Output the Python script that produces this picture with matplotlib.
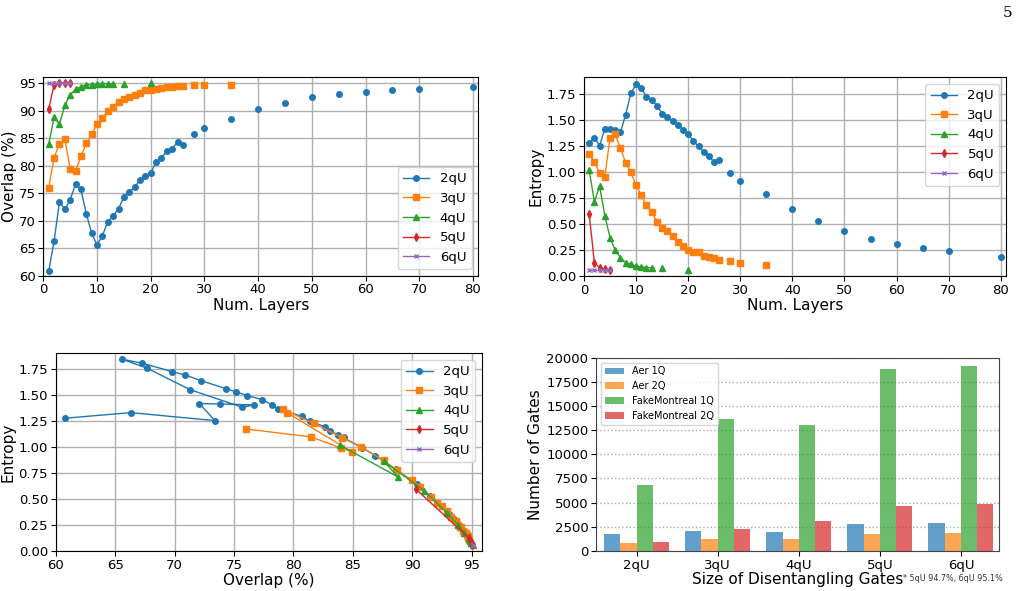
import numpy as np
import matplotlib
matplotlib.use("Agg")
import matplotlib.pyplot as plt

# ---------------- data ----------------
layers_2q = [1,2,3,4,5,6,7,8,9,10,11,12,13,14,15,16,17,18,19,20,21,22,23,24,25,26]
overlap_2q = [60.8,66.3,73.4,72.1,73.8,76.7,75.7,71.3,67.7,65.6,67.3,69.8,70.9,72.2,74.3,75.2,76.1,77.4,78.2,78.7,80.7,81.4,82.7,83.1,84.3,83.8]
entropy_2q = [1.276,1.330,1.253,1.417,1.413,1.404,1.381,1.551,1.756,1.843,1.804,1.724,1.692,1.638,1.561,1.529,1.494,1.455,1.404,1.365,1.295,1.247,1.192,1.151,1.093,1.112]
layers_2q_extra = [28,30,35,40,45,50,55,60,65,70,80]
overlap_2q_extra = [85.8,86.9,88.6,90.4,91.5,92.5,93.1,93.5,93.8,94.0,94.4]
entropy_2q_extra = [0.994,0.917,0.785,0.641,0.532,0.436,0.353,0.311,0.272,0.237,0.179]

layers_3q = list(range(1, 27))
overlap_3q = [76.0,81.5,84.0,84.9,79.5,79.1,81.7,84.1,85.7,87.6,88.7,90.0,90.7,91.6,92.1,92.5,92.9,93.3,93.7,93.85,94.0,94.1,94.3,94.4,94.5,94.6]
entropy_3q = [1.173,1.096,0.990,0.955,1.327,1.362,1.228,1.090,0.997,0.872,0.776,0.679,0.615,0.519,0.465,0.429,0.388,0.327,0.285,0.250,0.234,0.231,0.196,0.183,0.170,0.154]
layers_3q_extra = [28,30,35]
overlap_3q_extra = [94.7,94.7,94.75]
entropy_3q_extra = [0.144,0.128,0.103]

layers_4q = list(range(1, 14))
overlap_4q = [83.9,88.8,87.6,91.0,92.9,93.9,94.4,94.75,94.75,94.9,94.95,94.95,94.95]
entropy_4q = [1.019,0.712,0.865,0.580,0.369,0.247,0.176,0.128,0.115,0.093,0.090,0.080,0.080]
layers_4q_extra = [15,20]
overlap_4q_extra = [94.95,95.1]
entropy_4q_extra = [0.077,0.061]

layers_5q = [1,2,3,4,5]
overlap_5q = [90.3,94.75,95.05,95.05,95.0]
entropy_5q = [0.596,0.128,0.077,0.070,0.055]

layers_6q = [1,2,3,4,5]
overlap_6q = [95.1,95.1,95.1,95.1,95.1]
entropy_6q = [0.055,0.055,0.055,0.055,0.055]

series_names = ["2qU", "3qU", "4qU", "5qU", "6qU"]

bar_groups = ["2qU", "3qU", "4qU", "5qU", "6qU"]
aer_1q = [1760, 2070, 1970, 2790, 2900]
aer_2q = [830, 1240, 1240, 1760, 1860]
fm_1q = [6830, 13650, 13030, 18830, 19140]
fm_2q = [930, 2280, 3100, 4660, 4860]
bar_names = ["Aer 1Q", "Aer 2Q", "FakeMontreal 1Q", "FakeMontreal 2Q"]

footnote = "* 5qU 94.7%, 6qU 95.1%"

# ---------------- styling ----------------
colors = ["#1f77b4", "#ff7f0e", "#2ca02c", "#d62728", "#9467bd"]
markers = ["o", "s", "^", "d", "x"]
ms = [4, 4, 4, 4, 3.5]
TICK = 9.5
LABEL = 11
LEG = 9.5

fig = plt.figure(figsize=(10.22, 5.91), dpi=100)

ax1 = fig.add_axes([0.0424, 0.5335, 0.4256, 0.3357])
ax2 = fig.add_axes([0.5714, 0.533, 0.4129, 0.3362])
ax3 = fig.add_axes([0.0545, 0.0677, 0.4168, 0.3345])
ax4 = fig.add_axes([0.5832, 0.0677, 0.3943, 0.3271])

main = [
    (layers_2q, overlap_2q, entropy_2q, layers_2q_extra, overlap_2q_extra, entropy_2q_extra),
    (layers_3q, overlap_3q, entropy_3q, layers_3q_extra, overlap_3q_extra, entropy_3q_extra),
    (layers_4q, overlap_4q, entropy_4q, layers_4q_extra, overlap_4q_extra, entropy_4q_extra),
    (layers_5q, overlap_5q, entropy_5q, [], [], []),
    (layers_6q, overlap_6q, entropy_6q, [], [], []),
]

for i, (L, O, E, Lx, Ox, Ex) in enumerate(main):
    kw = dict(color=colors[i], marker=markers[i], markersize=ms[i], linewidth=1)
    ax1.plot(L, O, label=series_names[i], **kw)
    ax2.plot(L, E, label=series_names[i], **kw)
    if Lx:
        ax1.plot(Lx, Ox, linestyle="none", color=colors[i], marker=markers[i], markersize=ms[i])
        ax2.plot(Lx, Ex, linestyle="none", color=colors[i], marker=markers[i], markersize=ms[i])
    ax3.plot(list(O) + list(Ox), list(E) + list(Ex), label=series_names[i], **kw)

ax1.set_xlim(0, 81)
ax1.set_ylim(60, 96.1)
ax1.set_yticks(np.arange(60, 96, 5))
ax1.set_xticks(np.arange(0, 81, 10))
ax1.set_xlabel("Num. Layers", fontsize=LABEL, labelpad=1)
ax1.set_ylabel("Overlap (%)", fontsize=LABEL, labelpad=1)
ax1.legend(loc="lower right", fontsize=LEG)

ax2.set_xlim(0, 81)
ax2.set_ylim(0, 1.91)
ax2.set_yticks(np.arange(0, 1.76, 0.25))
ax2.set_xticks(np.arange(0, 81, 10))
ax2.set_xlabel("Num. Layers", fontsize=LABEL, labelpad=1)
ax2.set_ylabel("Entropy", fontsize=LABEL, labelpad=2)
ax2.legend(loc="upper right", fontsize=LEG)

ax3.set_xlim(60, 95.85)
ax3.set_ylim(0, 1.9)
ax3.set_xticks(np.arange(60, 96, 5))
ax3.set_yticks(np.arange(0, 1.76, 0.25))
ax3.set_xlabel("Overlap (%)", fontsize=LABEL, labelpad=1)
ax3.set_ylabel("Entropy", fontsize=LABEL, labelpad=2)
ax3.legend(loc="upper right", fontsize=LEG)

for ax in (ax1, ax2, ax3):
    ax.grid(True, color="#b0b0b0", linewidth=1.0)
    ax.tick_params(labelsize=TICK, pad=2)

# bar chart
x = np.arange(len(bar_groups))
w = 0.2
for j, vals in enumerate([aer_1q, aer_2q, fm_1q, fm_2q]):
    ax4.bar(x + (j - 1.5) * w, vals, width=w, color=colors[j], alpha=0.7,
            label=bar_names[j], zorder=3)
ax4.set_xticks(x)
ax4.set_xticklabels(bar_groups)
ax4.set_xlim(-0.5, 4.47)
ax4.set_ylim(0, 20000)
ax4.set_yticks(np.arange(0, 20001, 2500))
ax4.yaxis.grid(True, linestyle=":", color="#aaaaaa", linewidth=1.0, zorder=0)
ax4.set_axisbelow(True)
ax4.tick_params(labelsize=TICK, pad=2)
ax4.set_xlabel("Size of Disentangling Gates", fontsize=LABEL, labelpad=0)
ax4.set_ylabel("Number of Gates", fontsize=LABEL, labelpad=2)
ax4.legend(loc="upper left", fontsize=7)
for s in ax4.spines.values():
    s.set_color("#444444")

fig.text(0.981, 0.021, footnote, ha="right", va="center", fontsize=5.8, color="#333333")
fig.text(0.986, 0.978, "5", ha="center", va="center", fontsize=11, family="DejaVu Serif")

fig.savefig("out.png", dpi=100)
